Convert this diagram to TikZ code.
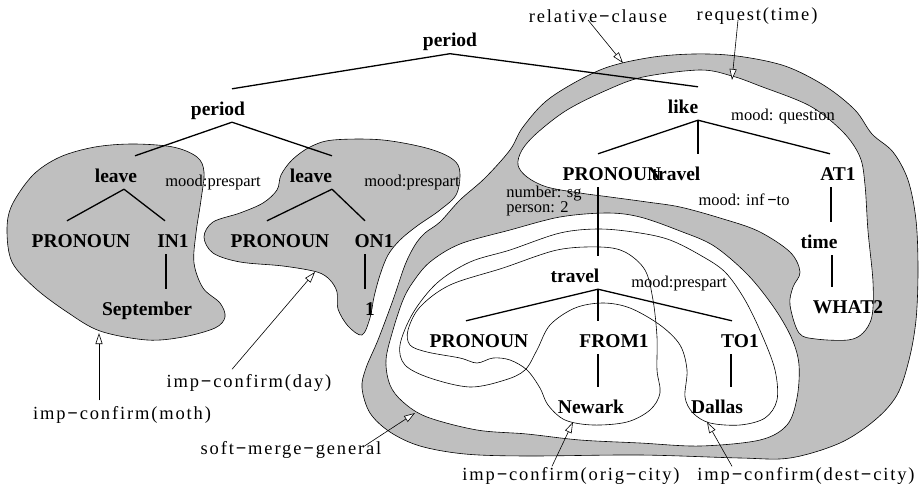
\documentclass[tikz,border=0pt]{standalone}
\usepackage{fontspec}
\setmainfont{Liberation Serif}
\newfontfamily\callfont[LetterSpace=10]{Liberation Serif}
\usetikzlibrary{arrows.meta}
\definecolor{blobgray}{gray}{0.75}

\tikzset{
  tn/.style={font=\fontsize{19.5}{20}\selectfont\bfseries, inner sep=0pt, text height=13pt, text depth=4pt},
  feat/.style={font=\fontsize{16.5}{15}\selectfont, inner sep=0pt, align=left},
  call/.style={font=\fontsize{18.5}{19}\selectfont\callfont, inner sep=0pt},
  edge/.style={line width=1.3pt},
  blob/.style={draw, line width=0.6pt, fill=blobgray},
  hole/.style={draw, line width=0.6pt, fill=white},
  loop/.style={draw, line width=0.6pt},
  pointer/.style={line width=0.6pt, -{Triangle[fill=white, length=11pt, width=7pt]}}
}
\newcommand{\mn}{\textbf{−}}

\begin{document}
\begin{tikzpicture}[x=1pt, y=-1pt]
	\useasboundingbox (0,0) rectangle (919,493);
	
	% gray regions
	\path[blob] plot[smooth cycle, tension=0.55] coordinates {(7,230) (12,205) (33,175) (60,157) (95,147) (133,144) (173,147) (197,157) (204,172) (201,200) (196,233) (194,263) (203,288) (220,303) (225,317) (215,328) (183,337) (147,340) (100,331) (67,312) (35,288) (12,262)};
	\path[blob] plot[smooth cycle, tension=0.55] coordinates {(310,147) (333,140) (383,140) (433,150) (458,165) (457,193) (440,210) (417,226) (400,240) (388,255) (380,275) (374,297) (370,318) (362,335) (348,326) (338,309) (337,292) (330,280) (317,272) (283,266) (240,262) (213,253) (204,237) (213,222) (240,213) (263,203) (277,190) (281,175) (292,160)};
	\path[blob] plot[smooth cycle, tension=0.55] coordinates {(362,388) (370,413) (390,432) (420,446) (465,454) (527,456) (640,455) (740,458) (790,458) (840,443) (875,420) (897,395) (909,360) (916,320) (918,270) (916,220) (908,180) (893,152) (872,134) (855,110) (825,86) (785,66) (737,56) (693,54) (647,58) (600,70) (550,98) (523,127) (510,150) (485,178) (460,200) (440,222) (425,233) (415,245) (405,265) (393,300) (378,340) (366,368)};
	
	% white regions
	\path[hole] plot[smooth cycle, tension=0.55] coordinates {(518,165) (522,150) (537,133) (567,110) (607,90) (643,77) (700,70) (732,76) (760,86) (810,106) (843,132) (860,157) (865,185) (868,231) (873,282) (872,316) (863,333) (848,340) (816,339) (799,333) (790,305) (793,287) (800,272) (790,252) (758,231) (720,218) (680,207) (647,202) (610,197) (580,193) (547,187) (527,177)};
	\path[hole] plot[smooth cycle, tension=0.55] coordinates {(403,300) (393,330) (386,360) (390,385) (403,402) (427,417) (477,430) (527,434) (580,440) (640,443) (700,446) (760,440) (787,425) (797,398) (799,365) (792,339) (775,309) (748,275) (714,246) (680,231) (640,217) (607,213) (560,217) (510,230) (460,244) (430,262) (413,282)};
	
	% loops
	\path[loop] plot[smooth cycle, tension=0.55] coordinates {(510,250) (470,262) (437,283) (413,313) (400,345) (405,365) (430,378) (470,387) (505,380) (525,370) (537,350) (550,325) (575,308) (603,303) (630,308) (660,325) (680,345) (687,370) (685,397) (693,413) (710,423) (740,425) (765,418) (777,400) (775,370) (762,335) (745,300) (725,272) (700,255) (670,240) (640,233) (600,229) (560,233)};
	\path[loop] plot[smooth cycle, tension=0.55] coordinates {(503,268) (557,250) (600,247) (625,252) (645,270) (653,300) (657,337) (657,370) (660,393) (650,410) (627,422) (593,425) (565,420) (548,405) (540,388) (527,370) (510,360) (493,358) (477,363) (460,358) (427,352) (410,345) (408,330) (420,307) (450,285)};
	
	% tree nodes
	\node[tn] (per1) at (450,42) {period};
	\node[tn] (per2) at (218,110.5) {period};
	\node[tn] (leave1) at (116,177.5) {leave};
	\node[tn] (leave2) at (311,177.5) {leave};
	\node[tn] (pron1) at (81,242.5) {PRONOUN};
	\node[tn] (in1) at (173,242.5) {IN1};
	\node[tn] (sept) at (147,310.5) {September};
	\node[tn] (pron2) at (280,242.5) {PRONOUN};
	\node[tn] (on1) at (374,242.5) {ON1};
	\node[tn] (one) at (370,310.5) {1};
	\node[tn] (like) at (683,108.5) {like};
	\node[tn] (pron3) at (612,175.5) {PRONOUN};
	\node[tn] (trav1) at (676,175.5) {travel};
	\node[tn] (at1) at (838,175.5) {AT1};
	\node[tn] (time) at (819,243.5) {time};
	\node[tn] (what2) at (848,308.5) {WHAT2};
	\node[tn] (trav2) at (575,277.5) {travel};
	\node[tn] (pron4) at (479,342.5) {PRONOUN};
	\node[tn] (from1) at (614,342.5) {FROM1};
	\node[tn] (to1) at (740,342.5) {TO1};
	\node[tn] (newark) at (591,408.5) {Newark};
	\node[tn] (dallas) at (717,408.5) {Dallas};
	
	% features
	\node[feat] (mp1) at (213,183) {mood:prespart};
	\node[feat] (mp2) at (412,183) {mood:prespart};
	\node[feat] (mq) at (783,117) {mood: question};
	\node[feat] (ns) at (544,201) {number: sg\\person: 2};
	\node[feat] (mi) at (744,200) {mood: inf\,\mn to};
	\node[feat] (mp3) at (679,284) {mood:prespart};
	
	% callouts
	\node[call] (cmoth) at (122,415) {imp\mn confirm(moth)};
	\node[call] (cday) at (249,383) {imp\mn confirm(day)};
	\node[call] (csoft) at (291,450) {soft\mn merge\mn general};
	\node[call] (corig) at (571,476) {imp\mn confirm(orig\mn city)};
	\node[call] (cdest) at (806,476) {imp\mn confirm(dest\mn city)};
	\node[call] (crel) at (598,16) {relative\mn clause};
	\node[call] (creq) at (757,16) {request(time)};
	
	\coordinate (moth tip) at (99,333);
	\coordinate (day tip) at (315,272);
	\coordinate (soft tip) at (415,413);
	\coordinate (orig tip) at (573,422);
	\coordinate (dest tip) at (707,422);
	\coordinate (rel tip) at (623,63);
	\coordinate (req tip) at (732,80);
	
	\draw[pointer] ([xshift=-23pt,yshift=6pt]cmoth.north) -- (moth tip);
	\draw[pointer] ([xshift=-17pt,yshift=5pt]cday.north) -- (day tip);
	\draw[pointer] ([xshift=72pt,yshift=3pt]csoft.center) -- (soft tip);
	\draw[pointer] ([xshift=-19pt,yshift=1pt]corig.north) -- (orig tip);
	\draw[pointer] ([xshift=-74pt,yshift=1pt]cdest.north) -- (dest tip);
	\draw[pointer] ([xshift=-10pt,yshift=-4pt]crel.center) -- (rel tip);
	\draw[pointer] ([xshift=-19pt,yshift=-4pt]creq.center) -- (req tip);
	
	% tree edges
	\draw[edge] ([yshift=-3pt]per1.south) -- ([xshift=14pt,yshift=13pt]per2.north);
	\draw[edge] ([yshift=-3pt]per1.south) -- ([xshift=15pt,yshift=13pt]like.north);
	\draw[edge] ([xshift=14pt,yshift=-3pt]per2.south) -- ([xshift=19pt,yshift=13pt]leave1.north);
	\draw[edge] ([xshift=14pt,yshift=-3pt]per2.south) -- ([xshift=21pt,yshift=13pt]leave2.north);
	\draw[edge] ([xshift=8pt,yshift=-3pt]leave1.south) -- ([xshift=-14pt,yshift=13pt]pron1.north);
	\draw[edge] ([xshift=8pt,yshift=-3pt]leave1.south) -- ([xshift=-8pt,yshift=13pt]in1.north);
	\draw[edge] ([xshift=-7pt,yshift=-3pt]in1.south) -- ([xshift=19pt,yshift=13pt]sept.north);
	\draw[edge] ([xshift=21pt,yshift=-3pt]leave2.south) -- ([xshift=-13pt,yshift=13pt]pron2.north);
	\draw[edge] ([xshift=21pt,yshift=-3pt]leave2.south) -- ([xshift=-9pt,yshift=13pt]on1.north);
	\draw[edge] ([xshift=-9pt,yshift=-3pt]on1.south) -- ([xshift=-5pt,yshift=13pt]one.north);
	\draw[edge] ([xshift=15pt,yshift=-3pt]like.south) -- ([xshift=-14pt,yshift=13pt]pron3.north);
	\draw[edge] ([xshift=15pt,yshift=-3pt]like.south) -- ([xshift=22pt,yshift=13pt]trav1.north);
	\draw[edge] ([xshift=15pt,yshift=-3pt]like.south) -- ([xshift=-8pt,yshift=13pt]at1.north);
	\draw[edge] ([xshift=-14pt,yshift=-3pt]pron3.south) -- ([xshift=23pt,yshift=13pt]trav2.north);
	\draw[edge] ([xshift=-7pt,yshift=-3pt]at1.south) -- ([xshift=12pt,yshift=13pt]time.north);
	\draw[edge] ([xshift=13pt,yshift=-3pt]time.south) -- ([xshift=-16pt,yshift=13pt]what2.north);
	\draw[edge] ([xshift=23pt,yshift=-3pt]trav2.south) -- ([xshift=-13pt,yshift=13pt]pron4.north);
	\draw[edge] ([xshift=23pt,yshift=-3pt]trav2.south) -- ([xshift=-16pt,yshift=13pt]from1.north);
	\draw[edge] ([xshift=23pt,yshift=-3pt]trav2.south) -- ([xshift=-8pt,yshift=13pt]to1.north);
	\draw[edge] ([xshift=-16pt,yshift=-3pt]from1.south) -- ([xshift=7pt,yshift=13pt]newark.north);
	\draw[edge] ([xshift=-9pt,yshift=-3pt]to1.south) -- ([xshift=14pt,yshift=13pt]dallas.north);
\end{tikzpicture}
\end{document}
